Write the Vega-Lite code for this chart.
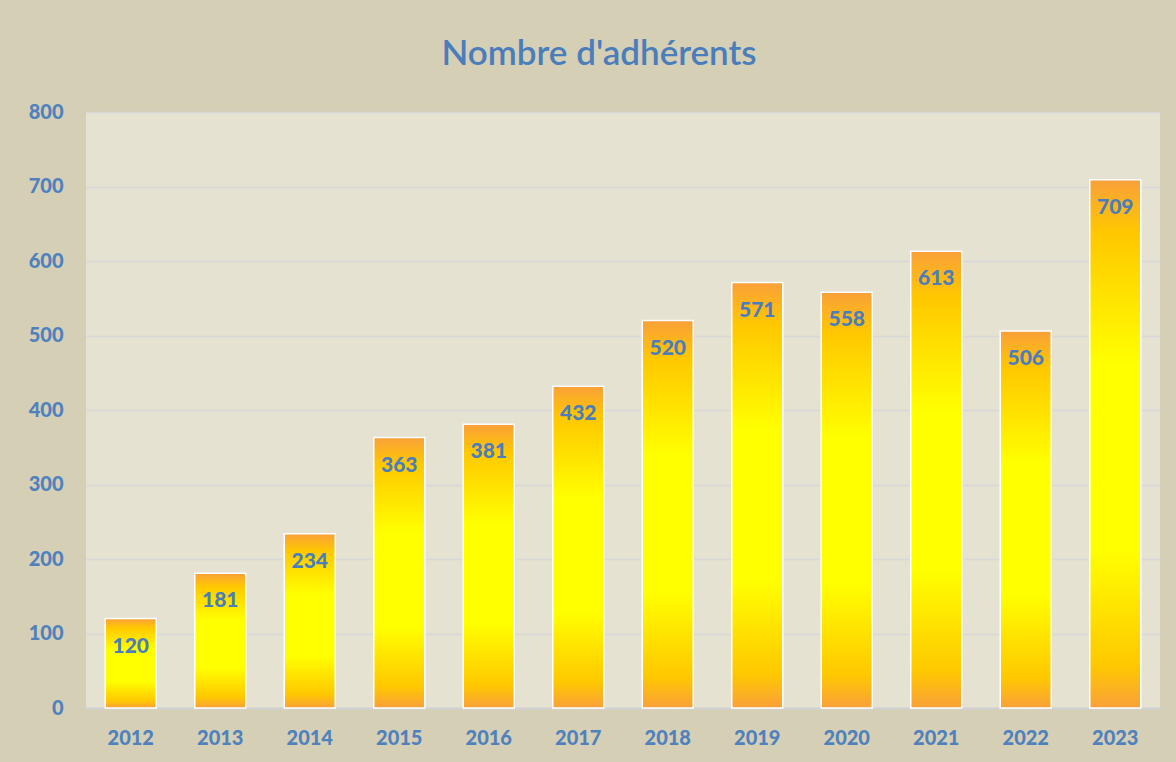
{
  "$schema": "https://vega.github.io/schema/vega-lite/v6.json",
  "autosize": {"type": "none"},
  "width": 1074,
  "height": 596,
  "padding": {"left": 86, "top": 112, "right": 16, "bottom": 54},
  "background": "#d5cfb6",
  "title": {
    "text": "Nombre d'adhérents",
    "anchor": "middle",
    "dx": -24,
    "offset": 30,
    "font": "Lato",
    "fontSize": 35,
    "fontWeight": 600,
    "color": "#4a7ebb"
  },
  "config": {
    "view": {"fill": "#e5e2d2", "stroke": null},
    "axis": {"labelFont": "Lato", "labelFontWeight": 900, "labelColor": "#4f81bd", "labelFontSize": 20, "ticks": false, "title": null}
  },
  "data": {
    "values": [
      {"year": "2012", "n": 120},
      {"year": "2013", "n": 181},
      {"year": "2014", "n": 234},
      {"year": "2015", "n": 363},
      {"year": "2016", "n": 381},
      {"year": "2017", "n": 432},
      {"year": "2018", "n": 520},
      {"year": "2019", "n": 571},
      {"year": "2020", "n": 558},
      {"year": "2021", "n": 613},
      {"year": "2022", "n": 506},
      {"year": "2023", "n": 709}
    ]
  },
  "encoding": {
    "x": {
      "field": "year",
      "type": "nominal",
      "sort": null,
      "scale": {"paddingInner": 0.43, "paddingOuter": 0.215},
      "axis": {"labelAngle": 0, "labelPadding": 20, "domainColor": "#d0d0d0", "domainWidth": 2}
    },
    "y": {
      "field": "n",
      "type": "quantitative",
      "scale": {"domain": [0, 800], "nice": false},
      "axis": {"values": [0, 100, 200, 300, 400, 500, 600, 700, 800], "domain": false, "gridColor": "#d8d8d8", "gridWidth": 1.5, "labelPadding": 23}
    }
  },
  "layer": [
    {
      "mark": {
        "type": "bar",
        "stroke": "#ffffff",
        "strokeWidth": 1.5,
        "color": {
          "gradient": "linear",
          "x1": 0, "y1": 0, "x2": 0, "y2": 1,
          "stops": [
            {"offset": 0, "color": "#f9a03a"},
            {"offset": 0.1, "color": "#ffc800"},
            {"offset": 0.35, "color": "#ffff00"},
            {"offset": 0.7, "color": "#ffff00"},
            {"offset": 0.92, "color": "#ffc800"},
            {"offset": 1, "color": "#f9a03a"}
          ]
        }
      }
    },
    {
      "mark": {
        "type": "text",
        "baseline": "middle",
        "dy": 28,
        "font": "Lato",
        "fontWeight": 900,
        "fontSize": 21,
        "color": "#4a7ebb"
      },
      "encoding": {"text": {"field": "n", "type": "quantitative"}}
    }
  ]
}
